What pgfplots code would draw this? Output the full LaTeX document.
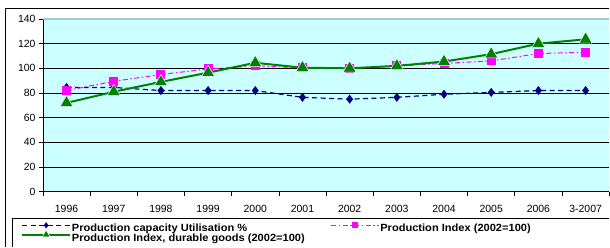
\documentclass[border=0pt]{standalone}
\usepackage{pgfplots}
\pgfplotsset{compat=1.18}
\usepackage{fontspec}
\setmainfont{Liberation Sans}
\newfontfamily\legendfont{Liberation Sans Bold}[FakeStretch=1.06]
\definecolor{bgc}{HTML}{CCFFFF}
\definecolor{cblue}{HTML}{000080}
\definecolor{cpink}{HTML}{FF00FF}
\definecolor{cgreen}{HTML}{008000}
\definecolor{topc}{HTML}{99CCCC}
\begin{document}
\begin{tikzpicture}
\path (0bp,0bp) rectangle (610bp,247bp);
\begin{axis}[
  at={(43bp,55bp)}, anchor=south west,
  scale only axis, width=567bp, height=173bp,
  xmin=-0.5, xmax=11.5, ymin=0, ymax=140,
  axis lines=left, axis line style={-, black, line width=0.8bp},
  axis background/.style={fill=bgc},
  xtick={0,...,11},
  xticklabels={1996,1997,1998,1999,2000,2001,2002,2003,2004,2005,2006,3-2007},
  minor xtick={-0.5,0.5,...,11.5},
  major x tick style={draw=none},
  minor tick length=4bp, major tick length=4bp,
  tick align=outside,
  tick style={black, line width=0.7bp},
  ytick={0,20,...,120},
  extra y ticks={140},
  extra y tick style={grid style={topc, line width=1.6bp}},
  ymajorgrids, grid style={black, line width=0.6bp},
  /pgf/number format/assume math mode=true,
  tick label style={font=\fontsize{10.5}{12}\selectfont},
  xticklabel style={yshift=-6bp},
  legend columns=2,
  legend cell align=left,
  legend style={at={(axis description cs:0,0)}, anchor=north west, xshift=-22bp, yshift=-31bp,
    draw=none, fill=none, inner sep=0pt,
    font=\legendfont\fontsize{10.5}{10.5}\selectfont,
    nodes={inner sep=0.8bp},
    row sep=-4bp,
    /tikz/every even column/.append style={column sep=25bp}},
  legend image code/.code={\draw[mark repeat=2,mark phase=2,#1,every mark/.append style={scale=0.6}] plot coordinates {(0bp,3.5bp) (24bp,3.5bp) (48bp,3.5bp)};},
]
\addplot[cblue, line width=1.2bp, dash pattern=on 5bp off 3.5bp, mark=diamond*, mark size=3.6bp, mark options={solid, fill=cblue, draw=cblue}]
 coordinates {(0,84.5) (1,84.5) (2,82) (3,82) (4,82) (5,76.5) (6,75) (7,76.5) (8,79) (9,80.5) (10,82) (11,82)};
\addlegendentry{Production capacity Utilisation \%}
\addplot[cpink, line width=1bp, dash pattern=on 5bp off 2.5bp on 1.5bp off 2.5bp, mark=square*, mark size=4bp, mark options={solid, fill=cpink, draw=cpink}]
 coordinates {(0,82) (1,89.5) (2,95) (3,99.5) (4,102) (5,100.5) (6,100) (7,102) (8,104) (9,106) (10,112) (11,113)};
\addlegendentry{Production Index (2002=100)}
\addplot[cgreen, line width=2bp, mark=triangle*, mark size=7.5bp, mark options={solid, fill=cgreen, draw=white, line width=0.5bp}]
 coordinates {(0,72) (1,81) (2,89) (3,96.5) (4,104.5) (5,100.5) (6,100) (7,102) (8,105.5) (9,111.5) (10,120) (11,123.5)};
\addlegendentry{Production Index, durable goods (2002=100)}
\end{axis}
\draw[line width=0.9bp] (5.5bp,239bp) -- (610bp,239bp);
\draw[line width=0.9bp] (5.5bp,239bp) -- (5.5bp,0bp);
\draw[line width=0.9bp] (12.5bp,0bp) -- (12.5bp,28.5bp) -- (610bp,28.5bp);
\end{tikzpicture}
\end{document}
